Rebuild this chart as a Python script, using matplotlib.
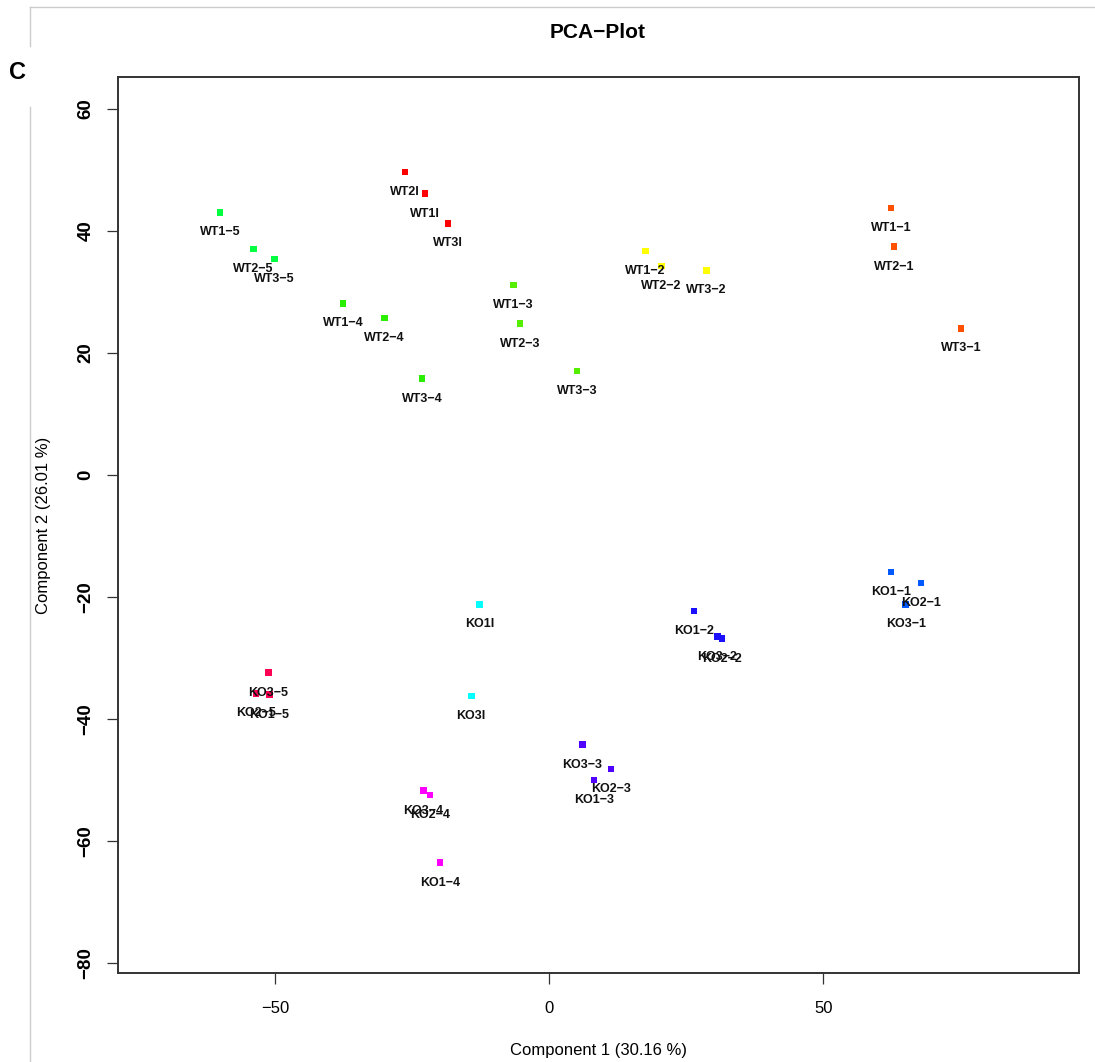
import matplotlib
matplotlib.use('Agg')
import matplotlib.pyplot as plt
from matplotlib.lines import Line2D

plt.rcParams['font.family'] = ['Liberation Sans', 'DejaVu Sans']

# sample names and PCA scores
samples = ['WT1-5', 'WT2-5', 'WT3-5', 'WT2I', 'WT1I', 'WT3I',
           'WT1-4', 'WT2-4', 'WT3-4', 'WT1-3', 'WT2-3', 'WT3-3',
           'WT1-2', 'WT2-2', 'WT3-2', 'WT1-1', 'WT2-1', 'WT3-1',
           'KO1-1', 'KO2-1', 'KO3-1', 'KO1-2', 'KO3-2', 'KO2-2',
           'KO3-5', 'KO2-5', 'KO1-5', 'KO1I', 'KO3I',
           'KO3-3', 'KO2-3', 'KO1-3', 'KO3-4', 'KO2-4', 'KO1-4']
pc1 = [-60.0, -53.9, -50.1, -26.3, -22.6, -18.4,
       -37.6, -30.0, -23.2, -6.5, -5.3, 5.1,
       17.6, 20.5, 28.7, 62.3, 62.9, 75.1,
       62.3, 67.8, 65.0, 26.4, 30.7, 31.5,
       -51.2, -53.4, -51.0, -12.7, -14.2,
       6.1, 11.3, 8.2, -22.9, -21.7, -19.9]
pc2 = [43.0, 37.0, 35.4, 49.6, 46.1, 41.2,
       28.1, 25.7, 15.8, 31.1, 24.8, 17.0,
       36.7, 34.2, 33.5, 43.7, 37.4, 24.0,
       -15.9, -17.7, -21.2, -22.3, -26.5, -26.8,
       -32.4, -35.8, -36.0, -21.2, -36.2,
       -44.2, -48.2, -50.0, -51.7, -52.4, -63.5]

# one colour per group (genotype + fraction)
group_colors = {
    'WT-I': '#ff0000', 'WT-1': '#ff5000', 'WT-2': '#ffff00', 'WT-3': '#55ee00',
    'WT-4': '#2aee00', 'WT-5': '#00ff40',
    'KO-I': '#00ffff', 'KO-1': '#0058ff', 'KO-2': '#1a10ff', 'KO-3': '#5000ff',
    'KO-4': '#ff00ff', 'KO-5': '#ff0055',
}


def group_of(name):
    geno = name[:2]
    if name.endswith('I'):
        return geno + '-I'
    return geno + '-' + name.split('-')[1]


colors = [group_colors[group_of(s)] for s in samples]

fig = plt.figure(figsize=(10.95, 10.62), dpi=100)
ax = fig.add_axes([118 / 1095, 1 - 973 / 1062, 961 / 1095, 896 / 1062])

ax.scatter(pc1, pc2, c=colors, marker='s', s=22, linewidths=0, zorder=2)
for name, x, y in zip(samples, pc1, pc2):
    ax.annotate(name.replace('-', '\u2212'), (x, y), xytext=(0, -20),
                textcoords='offset pixels', ha='center', va='center',
                fontsize=9, fontweight='bold', color='#111111', zorder=3)

ax.set_xlim(-78.6, 96.6)
ax.set_ylim(-81.6, 65.2)
ax.set_xticks([-50, 0, 50])
ax.set_yticks([-80, -60, -40, -20, 0, 20, 40, 60])

for sp in ax.spines.values():
    sp.set_color('#333333')
    sp.set_linewidth(1.4)

ax.tick_params(axis='x', length=8, width=0.9, color='#333333', labelsize=12, pad=12)
ax.tick_params(axis='y', length=8, width=0.9, color='#333333', labelsize=13.5, pad=9)
for lab in ax.get_yticklabels():
    lab.set_rotation(90)
    lab.set_va('center')
    lab.set_fontweight('bold')

fig.text(598 / 1095, 1 - 33 / 1062, 'PCA\u2212Plot', ha='center', va='center',
         fontsize=15, fontweight='bold')
fig.text(598 / 1095, 1 - 1051 / 1062, 'Component 1 (30.16 %)', ha='center', va='center',
         fontsize=12)
fig.text(44 / 1095, 1 - 525 / 1062, 'Component 2 (26.01 %)', ha='center', va='center',
         fontsize=12, rotation=90)
fig.text(18 / 1095, 1 - 73 / 1062, 'C', ha='center', va='center',
         fontsize=17, fontweight='bold')

# light grey panel frame
grey = '#cccccc'
fig.add_artist(Line2D([30 / 1095, 1], [1 - 7 / 1062, 1 - 7 / 1062],
                      transform=fig.transFigure, color=grey, lw=1))
fig.add_artist(Line2D([30 / 1095, 30 / 1095], [1 - 7 / 1062, 1 - 46 / 1062],
                      transform=fig.transFigure, color=grey, lw=1))
fig.add_artist(Line2D([30 / 1095, 30 / 1095], [1 - 107 / 1062, 0],
                      transform=fig.transFigure, color=grey, lw=1))

fig.savefig('out.png', dpi=100)
